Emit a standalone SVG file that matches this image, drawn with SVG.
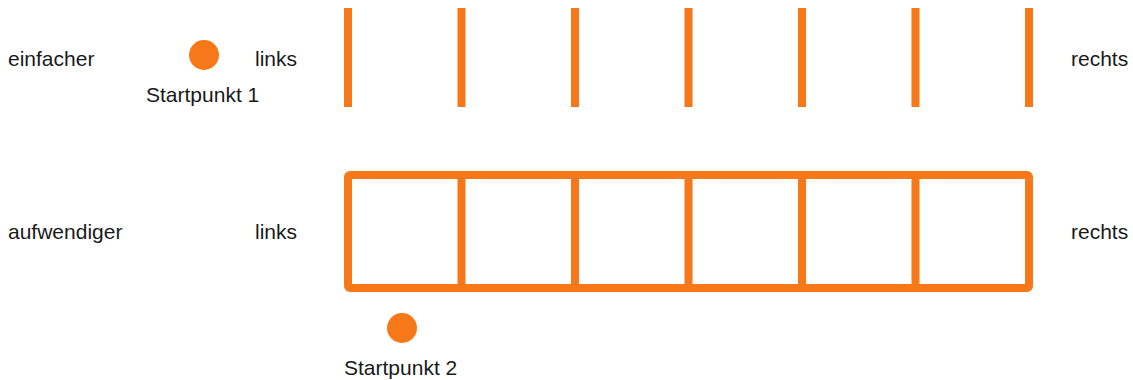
<svg xmlns="http://www.w3.org/2000/svg" width="1133" height="380" viewBox="0 0 1133 380">
<style>
text{font-family:"Liberation Sans",Arial,sans-serif;font-size:21px;fill:#1a1a1a}
.o{stroke:#f77819;stroke-width:8;fill:none;stroke-linejoin:round}
.dot{fill:#f77819}
</style>
<rect width="1133" height="380" fill="#fff"/>
<g id="labels">
<text x="8" y="66">einfacher</text>
<text x="255" y="66">links</text>
<text x="1071" y="66">rechts</text>
<text x="8" y="239">aufwendiger</text>
<text x="255" y="239">links</text>
<text x="1071" y="239">rechts</text>
</g>
<g id="start1"><circle class="dot" cx="204" cy="55" r="15"/><text x="146" y="102">Startpunkt 1</text></g>
<g id="start2"><circle class="dot" cx="402" cy="328" r="15"/><text x="344" y="375">Startpunkt 2</text></g>
<g id="simple">
<path class="o" d="M348 8V107M461.5 8V107M575 8V107M688.5 8V107M802 8V107M915.5 8V107M1029 8V107"/>
</g>
<g id="complex">
<rect class="o" x="348" y="175" width="681" height="113" rx="2"/>
<path class="o" d="M461.5 175V288M575 175V288M688.5 175V288M802 175V288M915.5 175V288"/>
</g>
</svg>
